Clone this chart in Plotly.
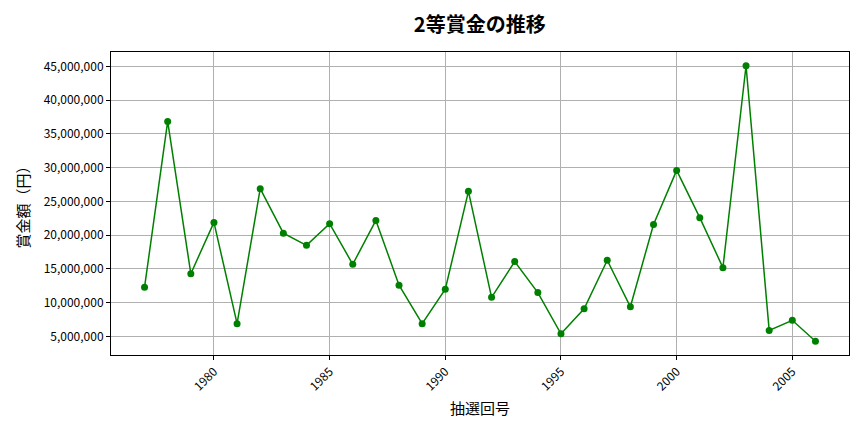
import plotly.graph_objects as go

# 抽選回号（横軸）と2等賞金（円）
years = list(range(1977, 2007))
prize = [
    12300000, 36850000, 14300000, 21900000, 6900000, 26900000,
    20300000, 18500000, 21700000, 15700000, 22200000, 12600000,
    6900000, 12000000, 26500000, 10800000, 16100000, 11500000,
    5400000, 9100000, 16300000, 9400000, 21600000, 29600000,
    22600000, 15200000, 45100000, 5900000, 7400000, 4300000,
]
x_ticks = [1980, 1985, 1990, 1995, 2000, 2005]
y_ticks = [5000000 * i for i in range(1, 10)]

font_jp = "Noto Sans CJK JP"

fig = go.Figure()
fig.add_trace(go.Scatter(
    x=years,
    y=prize,
    mode="lines+markers",
    line=dict(color="green", width=1.5),
    marker=dict(color="green", size=7),
    showlegend=False,
))

x_pad = (max(years) - min(years)) * 0.05
y_pad = (max(prize) - min(prize)) * 0.05

fig.update_layout(
    width=864,
    height=432,
    margin=dict(l=103, r=23, t=44, b=85),
    paper_bgcolor="white",
    plot_bgcolor="white",
    font=dict(family=font_jp, color="black", size=12),
    title=dict(
        text="<b>2等賞金の推移</b>",
        x=0.546, xanchor="center",
        y=0.96, yanchor="middle",
        font=dict(size=20, family=font_jp, color="black"),
    ),
    xaxis=dict(
        range=[min(years) - x_pad, max(years) + x_pad],
        tickvals=x_ticks,
        tickangle=-45,
        ticks="outside", ticklen=4, tickcolor="black",
        showgrid=True, gridcolor="#b0b0b0", gridwidth=1,
        showline=True, linecolor="black", mirror=True, linewidth=1,
        zeroline=False,
        title=dict(text="抽選回号", font=dict(size=15, family=font_jp), standoff=10),
    ),
    yaxis=dict(
        range=[min(prize) - y_pad, max(prize) + y_pad],
        tickvals=y_ticks,
        tickformat=",d",
        ticks="outside", ticklen=4, tickcolor="black",
        showgrid=True, gridcolor="#b0b0b0", gridwidth=1,
        showline=True, linecolor="black", mirror=True, linewidth=1,
        zeroline=False,
        title=dict(text="賞金額（円）", font=dict(size=15, family=font_jp), standoff=10),
    ),
)

fig.write_html("out.html")
